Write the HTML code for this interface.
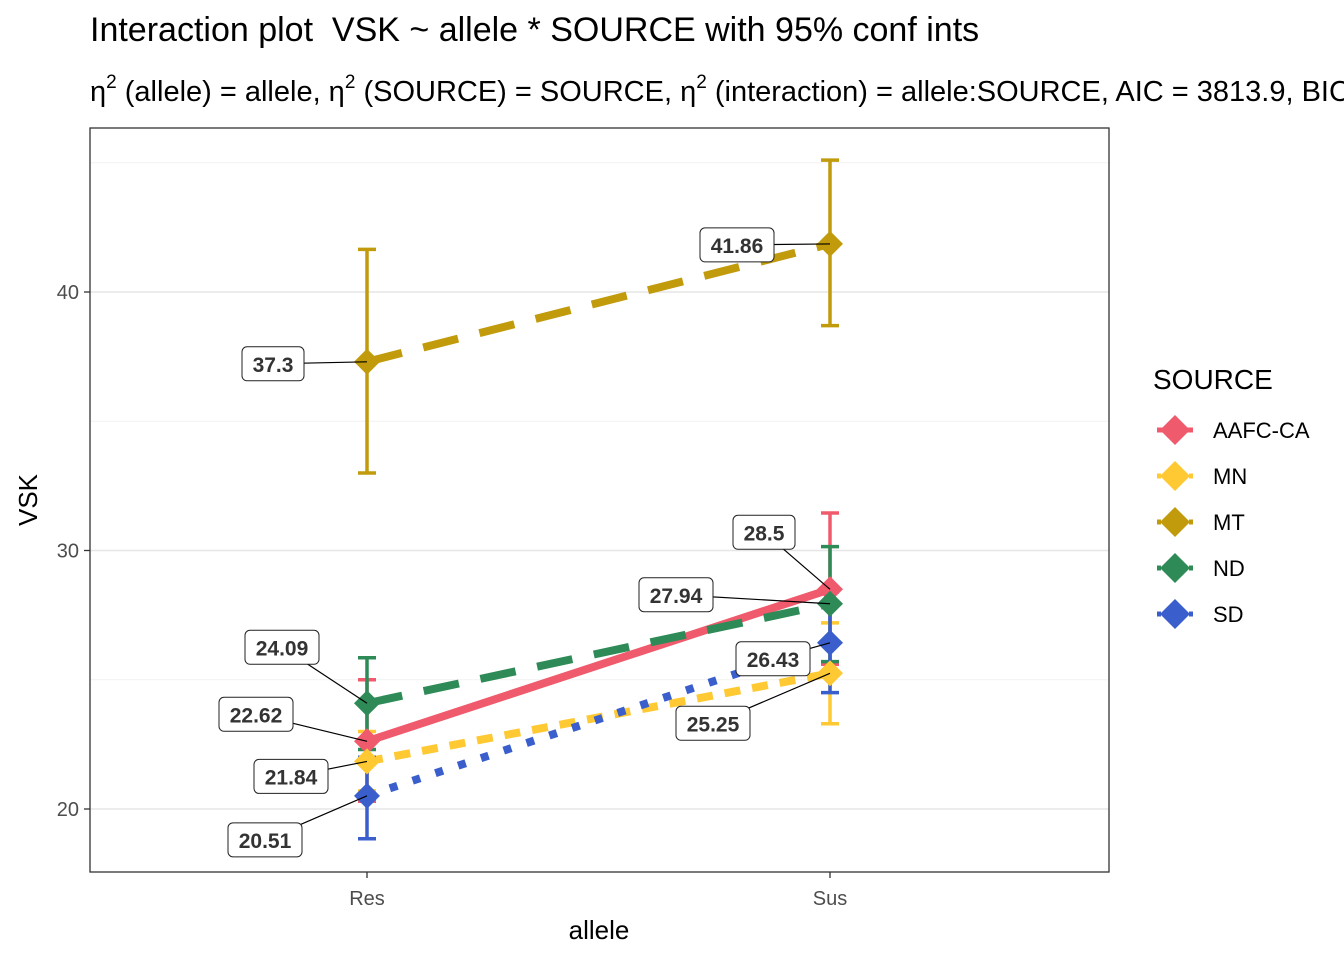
<!DOCTYPE html>
<html><head><meta charset="utf-8">
<style>
body{margin:0;background:#fff;}
svg text{font-family:"Liberation Sans",Arial,sans-serif;}
</style></head>
<body>
<svg id="chart" width="1344" height="960" viewBox="0 0 1344 960" xmlns="http://www.w3.org/2000/svg">
<text x="90" y="41" font-size="34" fill="#000">Interaction plot &#160;VSK ~ allele * SOURCE with 95% conf ints</text>
<text x="90" y="101" font-size="29" fill="#000">η<tspan font-size="19" dy="-13">2</tspan><tspan dy="13"> (allele) = allele, η</tspan><tspan font-size="19" dy="-13">2</tspan><tspan dy="13"> (SOURCE) = SOURCE, η</tspan><tspan font-size="19" dy="-13">2</tspan><tspan dy="13"> (interaction) = allele:SOURCE, AIC = 3813.9, BIC</tspan></text>
<rect x="90" y="128" width="1019" height="744" fill="#fff" stroke="none"/>
<g id="grid"></g>
<g id="series"></g>
<g id="labels"></g>
<rect x="90" y="128" width="1019" height="744" fill="none" stroke="#333" stroke-width="1.3"/>
<g id="axes"></g>
<text x="599" y="939" font-size="26" text-anchor="middle" fill="#000">allele</text>
<text transform="translate(37,500) rotate(-90)" font-size="26" text-anchor="middle" fill="#000">VSK</text>
<g id="legend"></g>
</svg>
<script>
const categories = ["Res", "Sus"];
const sources = ["AAFC-CA", "MN", "MT", "ND", "SD"];
const colors = ["#EF5A6C", "#FFC933", "#C19B0B", "#2E8B57", "#3A5FCD"];
const dashes = ["", "16 12", "36 22", "36 22", "8 16"];
const meanAAFC = [22.62, 28.5];
const meanMN = [21.84, 25.25];
const meanMT = [37.3, 41.86];
const meanND = [24.09, 27.94];
const meanSD = [20.51, 26.43];
const lowAAFC = [20.3, 25.6];
const highAAFC = [25.0, 31.45];
const lowMN = [20.7, 23.3];
const highMN = [23.0, 27.2];
const lowMT = [33.0, 38.7];
const highMT = [41.65, 45.1];
const lowND = [22.3, 25.7];
const highND = [25.85, 30.15];
const lowSD = [18.85, 24.5];
const highSD = [22.0, 28.4];
const yTicks = [20, 30, 40];
const yMinor = [25, 35, 45];
const labelText = [["22.62","28.5"],["21.84","25.25"],["37.3","41.86"],["24.09","27.94"],["20.51","26.43"]];

const means=[meanAAFC,meanMN,meanMT,meanND,meanSD];
const lows=[lowAAFC,lowMN,lowMT,lowND,lowSD];
const highs=[highAAFC,highMN,highMT,highND,highSD];
const labelOff=[[[-111,-27],[-66,-57]],[[-76,15],[-117,50]],[[-94,2],[-93,1]],[[-85,-56],[-154,-9]],[[-102,44],[-57,16]]];

const x=i=>367+i*463;
const y=v=>809-(v-20)*25.85;
const NS="http://www.w3.org/2000/svg";
function mk(tag,attrs,parent){const e=document.createElementNS(NS,tag);for(const k in attrs)e.setAttribute(k,attrs[k]);parent.appendChild(e);return e;}
const grid=document.getElementById('grid'),ser=document.getElementById('series'),lab=document.getElementById('labels'),ax=document.getElementById('axes'),leg=document.getElementById('legend');

yMinor.forEach(v=>{const l=mk('line',{x1:90,x2:1109,y1:y(v),y2:y(v),stroke:'#f2f2f2','stroke-width':1},grid);

});
yTicks.forEach(v=>{const l=mk('line',{x1:90,x2:1109,y1:y(v),y2:y(v),stroke:'#e6e6e6','stroke-width':1.4},grid);


const t=mk('line',{x1:84,x2:90,y1:y(v),y2:y(v),stroke:'#333','stroke-width':1.3},ax);


const tx=mk('text',{x:79,y:y(v)+7,'font-size':20,'text-anchor':'end',fill:'#4d4d4d'},ax);tx.textContent=v;

});
categories.forEach((c,i)=>{const t=mk('line',{x1:x(i),x2:x(i),y1:872,y2:878,stroke:'#333','stroke-width':1.3},ax);


const tx=mk('text',{x:x(i),y:905,'font-size':20,'text-anchor':'middle',fill:'#4d4d4d'},ax);tx.textContent=c;

});

function diamond(cx,cy,r,col,parent){return mk('polygon',{points:`${cx},${cy-r} ${cx+r},${cy} ${cx},${cy+r} ${cx-r},${cy}`,fill:col},parent);}

sources.forEach((s,k)=>{const m=means[k];
const ln=mk('line',{x1:x(0),y1:y(m[0]),x2:x(1),y2:y(m[1]),stroke:colors[k],'stroke-width':8,'stroke-dasharray':dashes[k]},ser);

});
sources.forEach((s,k)=>{categories.forEach((c,i)=>{
const g=mk('g',{},ser);


const lo=y(lows[k][i]),hi=y(highs[k][i]);
mk('line',{x1:x(i),x2:x(i),y1:lo,y2:hi,stroke:colors[k],'stroke-width':3.5},g);
mk('line',{x1:x(i)-9,x2:x(i)+9,y1:lo,y2:lo,stroke:colors[k],'stroke-width':3.5},g);
mk('line',{x1:x(i)-9,x2:x(i)+9,y1:hi,y2:hi,stroke:colors[k],'stroke-width':3.5},g);});});
sources.forEach((s,k)=>{categories.forEach((c,i)=>{
const p=diamond(x(i),y(means[k][i]),13,colors[k],ser);

});});
sources.forEach((s,k)=>{categories.forEach((c,i)=>{
const px=x(i),py=y(means[k][i]);const lx=px+labelOff[k][i][0],ly=py+labelOff[k][i][1];
const g=mk('g',{},lab);


mk('line',{x1:lx,y1:ly,x2:px,y2:py,stroke:'#000','stroke-width':1.2},g);
const txt=labelText[k][i];const w=txt.length*12+14;
mk('rect',{x:lx-w/2,y:ly-17,width:w,height:34,rx:5,fill:'#fff',stroke:'#222','stroke-width':1},g);
const t=mk('text',{x:lx,y:ly+8,'font-size':21,'font-weight':'bold','text-anchor':'middle',fill:'#333'},g);t.textContent=txt;});});

const lt=mk('text',{x:1153,y:389,'font-size':28,fill:'#000'},leg);lt.textContent='SOURCE';


sources.forEach((s,k)=>{const cy=430+k*46;const g=mk('g',{},leg);


mk('line',{x1:1157,x2:1193,y1:cy,y2:cy,stroke:colors[k],'stroke-width':5,'stroke-dasharray':k==0?'':'4 4'},g);
diamond(1175,cy,15,colors[k],g);
const t=mk('text',{x:1213,y:cy+8,'font-size':22,fill:'#000'},g);t.textContent=s;});
</script>
</body></html>
